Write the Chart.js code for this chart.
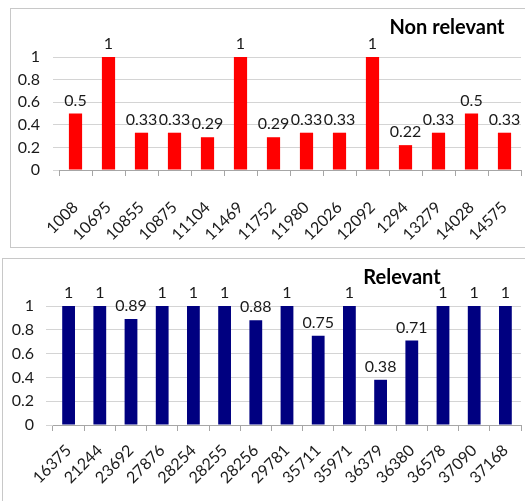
<!DOCTYPE html>
<html>
<head>
<meta charset="utf-8">
<script src="https://cdn.jsdelivr.net/npm/chart.js@4/dist/chart.umd.min.js"></script>
<style>
  html, body { margin: 0; padding: 0; background: #ffffff; width: 525px; height: 501px; overflow: hidden; }
  .panel { position: absolute; box-sizing: border-box; border: 1px solid #c8c8c8; background: #fff; }
  #topPanel { left: 10px; top: 8px; width: 520px; height: 240px; }
  #bottomPanel { left: 2px; top: 258px; width: 530px; height: 250px; }
  .panel canvas { position: absolute; left: 0; top: 0; }
</style>
</head>
<body>
<div class="panel" id="topPanel"><canvas id="topChart" width="513" height="238"></canvas></div>
<div class="panel" id="bottomPanel"><canvas id="bottomChart" width="521" height="248"></canvas></div>
<script>
// Non relevant documents
const topCategories = ['1008', '10695', '10855', '10875', '11104', '11469', '11752', '11980', '12026', '12092', '1294', '13279', '14028', '14575'];
const topValues = [0.5, 1, 0.33, 0.33, 0.29, 1, 0.29, 0.33, 0.33, 1, 0.22, 0.33, 0.5, 0.33];

// Relevant documents
const bottomCategories = ['16375', '21244', '23692', '27876', '28254', '28255', '28256', '29781', '35711', '35971', '36379', '36380', '36578', '37090', '37168'];
const bottomValues = [1, 1, 0.89, 1, 1, 1, 0.88, 1, 0.75, 1, 0.38, 0.71, 1, 1, 1];

// Shared value axis: 0 to 1 in steps of 0.2
const yMin = 0, yMax = 1, yStep = 0.2;

const FONT = 'Lato, "Open Sans", "DejaVu Sans", sans-serif';

// Writes each bar's value just above it
const valueLabels = {
  id: 'valueLabels',
  afterDatasetsDraw(chart, args, opts) {
    const ctx = chart.ctx;
    const meta = chart.getDatasetMeta(0);
    const data = chart.data.datasets[0].data;
    ctx.save();
    ctx.font = opts.size + 'px ' + FONT;
    ctx.fillStyle = '#1a1a1a';
    ctx.textAlign = 'center';
    ctx.textBaseline = 'bottom';
    meta.data.forEach((bar, i) => {
      ctx.fillText(String(data[i]), bar.x, bar.y - opts.gap);
    });
    ctx.restore();
  }
};

// Bold heading placed at a given position in the chart box
const heading = {
  id: 'heading',
  afterDraw(chart, args, opts) {
    const ctx = chart.ctx;
    ctx.save();
    ctx.font = 'bold ' + opts.size + 'px ' + FONT;
    ctx.fillStyle = '#000';
    ctx.textAlign = 'center';
    ctx.textBaseline = 'middle';
    ctx.fillText(opts.text, opts.x, opts.y);
    ctx.restore();
  }
};

function makeChart(id, labels, values, color, cfg) {
  return new Chart(document.getElementById(id), {
    type: 'bar',
    data: {
      labels: labels,
      datasets: [{
        data: values,
        backgroundColor: color,
        borderWidth: 0,
        categoryPercentage: 1,
        barPercentage: cfg.barPct
      }]
    },
    plugins: [valueLabels, heading],
    options: {
      responsive: false,
      animation: false,
      events: [],
      layout: { padding: cfg.padding },
      plugins: {
        legend: { display: false },
        tooltip: { enabled: false },
        title: { display: false },
        valueLabels: { size: 16, gap: 5 },
        heading: cfg.heading
      },
      scales: {
        x: {
          offset: true,
          grid: {
            offset: true,
            drawOnChartArea: false,
            drawTicks: true,
            tickLength: 6,
            color: '#a6a6a6'
          },
          border: { display: true, color: '#a6a6a6' },
          ticks: {
            autoSkip: false,
            minRotation: 45,
            maxRotation: 45,
            padding: cfg.xPad,
            color: '#1a1a1a',
            font: { family: FONT, size: 16 }
          },
          afterFit(scale) {
            scale.height = cfg.xHeight;
            // the rotated labels sit inside the box, so no extra side room
            scale.paddingLeft = 0;
            scale.paddingRight = 0;
          }
        },
        y: {
          min: yMin,
          max: yMax,
          ticks: {
            stepSize: yStep,
            padding: cfg.yPad,
            color: '#1a1a1a',
            font: { family: FONT, size: 16 },
            callback: v => String(+v.toFixed(1))
          },
          grid: {
            color: '#d4d4d4',
            tickLength: cfg.yTick,
            drawTicks: true
          },
          border: { display: false },
          afterFit(scale) { scale.width = cfg.yWidth; }
        }
      }
    }
  });
}

makeChart('topChart', topCategories, topValues, '#ff0000', {
  barPct: 0.4,
  padding: { left: 0, top: 48, right: 3, bottom: 0 },
  xHeight: 77,
  xPad: 22,
  yWidth: 48,
  yPad: 13,
  yTick: 6,
  heading: { text: 'Non relevant', size: 20, x: 436, y: 19 }
});

makeChart('bottomChart', bottomCategories, bottomValues, '#000080', {
  barPct: 0.41,
  padding: { left: 0, top: 47, right: 3, bottom: 0 },
  xHeight: 82,
  xPad: 10,
  yWidth: 50,
  yPad: 12,
  yTick: 7,
  heading: { text: 'Relevant', size: 20, x: 399, y: 19 }
});
</script>
</body>
</html>
